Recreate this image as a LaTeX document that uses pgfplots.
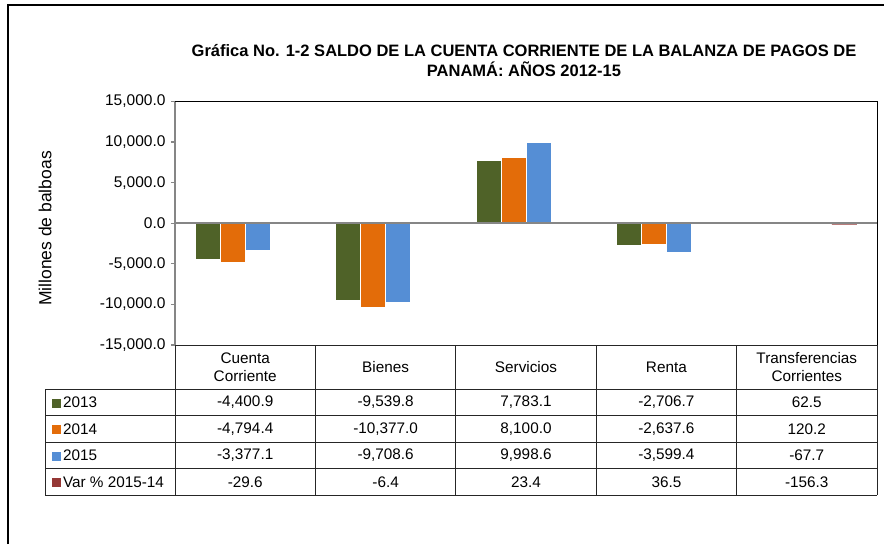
\documentclass[border=0pt]{standalone}
\usepackage{fontspec}
\setmainfont{Liberation Sans}
\usepackage{pgfplots}
\pgfplotsset{compat=1.18}
\definecolor{c2013}{HTML}{4F6228}
\definecolor{c2014}{HTML}{E36C09}
\definecolor{c2015}{HTML}{558ED5}
\definecolor{cvar}{HTML}{953735}
\definecolor{axgray}{HTML}{868686}
\newcommand{\tabfont}{\fontsize{15.3}{18}\selectfont}
\newcommand{\key}[1]{\textcolor{#1}{\rule{9pt}{9pt}}\hspace{2.5pt}}

\begin{document}
\begin{tikzpicture}[x=1pt,y=1pt]
  \useasboundingbox (0,0) rectangle (884,544);
  % outer frame
  \draw[line width=2.5pt] (8,0) -- (8,539) -- (884,539);

  \node[align=center, font=\fontsize{16.5}{20}\selectfont\bfseries] at (524,483)
    {Gráfica No. 1-2 SALDO DE LA CUENTA CORRIENTE DE LA BALANZA DE PAGOS DE\\PANAMÁ: AÑOS 2012-15};
  \node[rotate=90, font=\fontsize{17.5}{20}\selectfont] at (45,315.5) {Millones de balboas};

  \begin{axis}[
      at={(175pt,199pt)}, anchor=south west,
      scale only axis, width=702pt, height=243.5pt,
      ybar=0pt, bar width=25pt,
      xmin=-0.5, xmax=4.5,
      ymin=-15000, ymax=15000,
      ytick={-15000,-10000,...,15000},
      scaled y ticks=false,
      xtick=\empty, ytick pos=left,
      axis line style={draw=none},
      tick align=outside, major tick length=4pt,
      y tick style={axgray, line width=1.2pt},
      yticklabel style={font=\fontsize{15.5}{18}\selectfont, xshift=-2pt,
        /pgf/number format/fixed, /pgf/number format/fixed zerofill,
        /pgf/number format/precision=1, /pgf/number format/1000 sep={,},
        /pgf/number format/assume math mode=true},
      clip=false,
    ]
    \addplot[fill=c2013, draw=white, line width=0.5pt] coordinates
      {(0,-4400.9) (1,-9539.8) (2,7783.1) (3,-2706.7) (4,62.5)};
    \addplot[fill=c2014, draw=white, line width=0.5pt] coordinates
      {(0,-4794.4) (1,-10377.0) (2,8100.0) (3,-2637.6) (4,120.2)};
    \addplot[fill=c2015, draw=white, line width=0.5pt] coordinates
      {(0,-3377.1) (1,-9708.6) (2,9998.6) (3,-3599.4) (4,-67.7)};
    \addplot[fill=cvar, draw=none] coordinates
      {(0,-29.6) (1,-6.4) (2,23.4) (3,36.5) (4,-156.3)};
    \draw[axgray, line width=1.5pt] (rel axis cs:0,0) -- (rel axis cs:0,1);
    \draw[axgray, line width=1.5pt] (axis cs:-0.5,0) -- (axis cs:4.5,0);
    \draw[black, line width=0.8pt] (rel axis cs:0,1) -- (rel axis cs:1,1) -- (rel axis cs:1,0);
  \end{axis}

  % data table
  \begin{scope}[black!85, line width=0.9pt]
    \draw (175,199) -- (877,199);
    \foreach \yy in {155,128.5,102,75.5,49} \draw (45,\yy) -- (877,\yy);
    \draw (45,49) -- (45,155);
    \foreach \xx in {175,315.4,455.8,596.2,736.6,877} \draw (\xx,49) -- (\xx,199);
  \end{scope}

  \begin{scope}[every node/.style={font=\tabfont, align=center}]
    \node at (245.2,177) {Cuenta\\Corriente};
    \node at (385.6,177) {Bienes};
    \node at (526.0,177) {Servicios};
    \node at (666.4,177) {Renta};
    \node at (806.8,177) {Transferencias\\Corrientes};

    \node[anchor=west] at (48,141.75) {\key{c2013}2013};
    \node[anchor=west] at (48,115.25) {\key{c2014}2014};
    \node[anchor=west] at (48,88.75) {\key{c2015}2015};
    \node[anchor=west] at (48,62.25) {\key{cvar}Var \% 2015-14};

    \node at (245.2,141.75) {-4,400.9};
    \node at (385.6,141.75) {-9,539.8};
    \node at (526.0,141.75) {7,783.1};
    \node at (666.4,141.75) {-2,706.7};
    \node at (806.8,141.75) {62.5};

    \node at (245.2,115.25) {-4,794.4};
    \node at (385.6,115.25) {-10,377.0};
    \node at (526.0,115.25) {8,100.0};
    \node at (666.4,115.25) {-2,637.6};
    \node at (806.8,115.25) {120.2};

    \node at (245.2,88.75) {-3,377.1};
    \node at (385.6,88.75) {-9,708.6};
    \node at (526.0,88.75) {9,998.6};
    \node at (666.4,88.75) {-3,599.4};
    \node at (806.8,88.75) {-67.7};

    \node at (245.2,62.25) {-29.6};
    \node at (385.6,62.25) {-6.4};
    \node at (526.0,62.25) {23.4};
    \node at (666.4,62.25) {36.5};
    \node at (806.8,62.25) {-156.3};
  \end{scope}
\end{tikzpicture}
\end{document}
